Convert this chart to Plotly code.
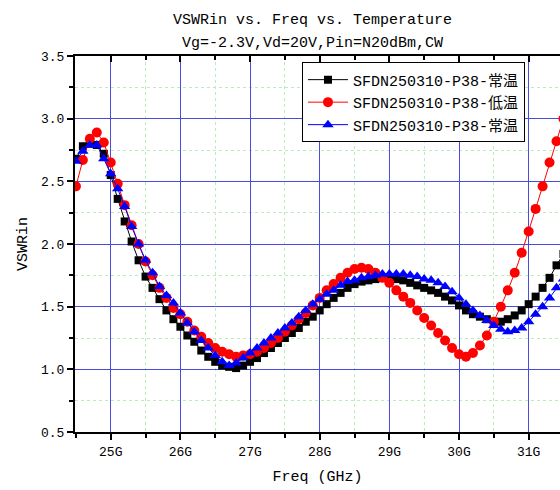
import plotly.graph_objects as go

freq = [24.5, 24.6, 24.7, 24.8, 24.9, 25.0, 25.1, 25.2, 25.3, 25.4,
        25.5, 25.6, 25.7, 25.8, 25.9, 26.0, 26.1, 26.2, 26.3, 26.4,
        26.5, 26.6, 26.7, 26.8, 26.9, 27.0, 27.1, 27.2, 27.3, 27.4,
        27.5, 27.6, 27.7, 27.8, 27.9, 28.0, 28.1, 28.2, 28.3, 28.4,
        28.5, 28.6, 28.7, 28.8, 28.9, 29.0, 29.1, 29.2, 29.3, 29.4,
        29.5, 29.6, 29.7, 29.8, 29.9, 30.0, 30.1, 30.2, 30.3, 30.4,
        30.5, 30.6, 30.7, 30.8, 30.9, 31.0, 31.1, 31.2, 31.3, 31.4, 31.5]

vswr_room1 = [2.68, 2.78, 2.80, 2.79, 2.72, 2.55, 2.36, 2.18, 2.02, 1.87,
              1.74, 1.65, 1.56, 1.47, 1.40, 1.34, 1.27, 1.22, 1.15, 1.10,
              1.06, 1.03, 1.02, 1.01, 1.03, 1.06, 1.09, 1.13, 1.17, 1.21,
              1.25, 1.29, 1.33, 1.38, 1.42, 1.47, 1.52, 1.57, 1.61, 1.65,
              1.68, 1.70, 1.71, 1.72, 1.73, 1.73, 1.72, 1.71, 1.69, 1.67,
              1.65, 1.63, 1.61, 1.58, 1.55, 1.51, 1.47, 1.44, 1.42, 1.40,
              1.38, 1.38, 1.40, 1.43, 1.47, 1.52, 1.58, 1.65, 1.73, 1.83, 1.92]

vswr_low = [2.46, 2.67, 2.84, 2.89, 2.81, 2.65, 2.48, 2.31, 2.15, 2.00,
            1.86, 1.75, 1.65, 1.57, 1.49, 1.44, 1.38, 1.31, 1.26, 1.21,
            1.17, 1.14, 1.12, 1.10, 1.11, 1.12, 1.14, 1.17, 1.21, 1.25,
            1.30, 1.35, 1.40, 1.45, 1.51, 1.57, 1.63, 1.68, 1.73, 1.77,
            1.80, 1.81, 1.80, 1.77, 1.73, 1.69, 1.63, 1.58, 1.53, 1.47,
            1.41, 1.35, 1.29, 1.23, 1.17, 1.12, 1.10, 1.13, 1.19, 1.27,
            1.38, 1.50, 1.63, 1.77, 1.93, 2.10, 2.28, 2.46, 2.65, 2.82, 3.00]

vswr_room2 = [2.66, 2.74, 2.79, 2.79, 2.68, 2.56, 2.44, 2.30, 2.14, 2.00,
              1.87, 1.77, 1.66, 1.59, 1.53, 1.45, 1.37, 1.30, 1.23, 1.17,
              1.11, 1.06, 1.03, 1.05, 1.09, 1.13, 1.17, 1.21, 1.25, 1.29,
              1.33, 1.37, 1.42, 1.47, 1.52, 1.56, 1.60, 1.63, 1.67, 1.70,
              1.71, 1.73, 1.74, 1.75, 1.76, 1.76, 1.76, 1.76, 1.75, 1.74,
              1.72, 1.71, 1.69, 1.66, 1.62, 1.57, 1.52, 1.47, 1.43, 1.39,
              1.35, 1.32, 1.30, 1.31, 1.33, 1.38, 1.44, 1.50, 1.57, 1.65, 1.72]

series_names = ["SFDN250310-P38-常温", "SFDN250310-P38-低温", "SFDN250310-P38-常温"]

x_tickvals = [25, 26, 27, 28, 29, 30, 31]
x_ticktext = ["25G", "26G", "27G", "28G", "29G", "30G", "31G"]
y_tickvals = [0.5, 1.0, 1.5, 2.0, 2.5, 3.0, 3.5]
y_ticktext = ["0.5", "1.0", "1.5", "2.0", "2.5", "3.0", "3.5"]

title1 = "VSWRin vs. Freq vs. Temperature"
title2 = "Vg=-2.3V,Vd=20V,Pin=N20dBm,CW"

FONT = "Liberation Mono, Noto Sans CJK SC, monospace"
GRID_BLUE = "rgb(75,75,225)"
GRID_GREEN = "rgb(190,235,190)"

fig = go.Figure()
fig.add_trace(go.Scatter(x=freq, y=vswr_room1, name=series_names[0], mode="lines+markers",
                         line=dict(color="black", width=1),
                         marker=dict(symbol="square", size=8, color="black")))
fig.add_trace(go.Scatter(x=freq, y=vswr_low, name=series_names[1], mode="lines+markers",
                         line=dict(color="red", width=1),
                         marker=dict(symbol="circle", size=10, color="red")))
fig.add_trace(go.Scatter(x=freq, y=vswr_room2, name=series_names[2], mode="lines+markers",
                         line=dict(color="blue", width=1),
                         marker=dict(symbol="triangle-up", size=10, color="blue")))
# helper trace so the top mirror axis is drawn
fig.add_trace(go.Scatter(x=freq[:1], y=vswr_room1[:1], xaxis="x2", mode="lines",
                         line=dict(width=0), opacity=0, showlegend=False, hoverinfo="skip"))

fig.update_layout(
    width=560, height=490,
    margin=dict(l=75, r=0, t=56, b=58),
    paper_bgcolor="white", plot_bgcolor="white",
    font=dict(family=FONT, color="black", size=13),
    showlegend=True,
    legend=dict(x=0.468, y=0.983, xanchor="left", yanchor="top",
                bgcolor="white", bordercolor="black", borderwidth=1,
                font=dict(family=FONT, size=15, color="black"),
                tracegroupgap=0, itemwidth=40),
    xaxis=dict(range=[24.487, 31.45], tickvals=x_tickvals, ticktext=x_ticktext,
               showline=True, linecolor="black", linewidth=2,
               ticks="outside", ticklen=6, tickwidth=1.5, tickcolor="black",
               showgrid=True, gridcolor=GRID_BLUE, gridwidth=1,
               minor=dict(dtick=0.5, ticks="outside", ticklen=4, tickcolor="black",
                          showgrid=True, gridcolor=GRID_GREEN, griddash="dot", gridwidth=1),
               zeroline=False,
               tickfont=dict(family=FONT, size=13),
               title=dict(text="Freq (GHz)", font=dict(family=FONT, size=15), standoff=12)),
    xaxis2=dict(overlaying="x", side="top", matches="x", showticklabels=False,
                showline=True, linecolor="black", linewidth=2,
                ticks="inside", ticklen=6, tickwidth=1.5, tickcolor="black",
                tickvals=x_tickvals, showgrid=False, zeroline=False,
                minor=dict(dtick=0.5, ticks="inside", ticklen=4, tickcolor="black", showgrid=False)),
    yaxis=dict(range=[0.5, 3.5], tickvals=y_tickvals, ticktext=y_ticktext,
               showline=True, linecolor="black", linewidth=2,
               ticks="outside", ticklen=6, tickwidth=1.5, tickcolor="black",
               showgrid=True, gridcolor=GRID_BLUE, gridwidth=1,
               minor=dict(dtick=0.25, ticks="outside", ticklen=4, tickcolor="black",
                          showgrid=True, gridcolor=GRID_GREEN, griddash="dot", gridwidth=1),
               zeroline=False,
               tickfont=dict(family=FONT, size=13),
               title=dict(text="VSWRin", font=dict(family=FONT, size=15), standoff=10)),
    annotations=[
        dict(text=title1, xref="paper", yref="paper", x=0.4907, y=1.0957,
             xanchor="center", yanchor="middle", showarrow=False,
             font=dict(family=FONT, size=15, color="black")),
        dict(text=title2, xref="paper", yref="paper", x=0.4907, y=1.032,
             xanchor="center", yanchor="middle", showarrow=False,
             font=dict(family=FONT, size=15, color="black")),
    ],
)

fig.write_html("out.html")
